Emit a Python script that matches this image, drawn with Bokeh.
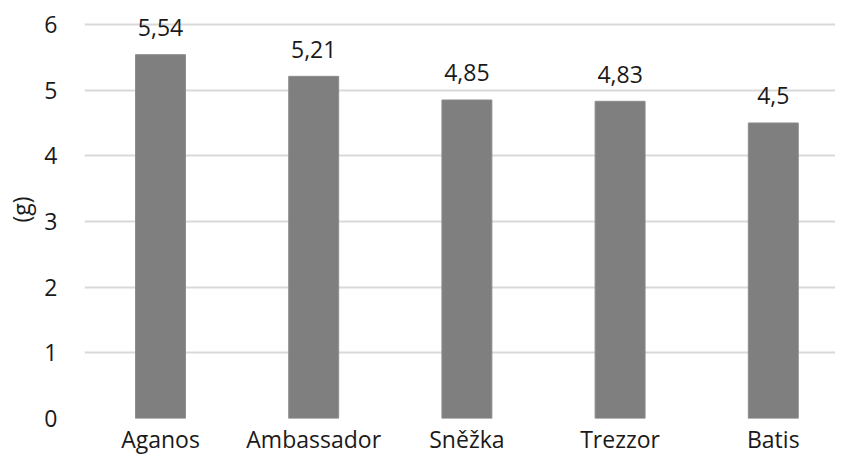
from bokeh.plotting import figure
from bokeh.models import Range1d, FixedTicker, ColumnDataSource
from bokeh.embed import file_html
from bokeh.resources import INLINE
from bokeh.core.properties import value

categories = ["Aganos", "Ambassador", "Sněžka", "Trezzor", "Batis"]
values = [5.54, 5.21, 4.85, 4.83, 4.5]
y_ticks = [0, 1, 2, 3, 4, 5, 6]
y_label = "(g)"

FONT = "Open Sans"
FS = "23px"
TXT = "#1a1a1a"

xs = [i + 0.5 for i in range(len(categories))]
labels = [f"{v:g}".replace(".", ",") for v in values]
src = ColumnDataSource(dict(x=xs, top=values, label=labels))

# frame reaches the top edge so value labels above the 6 line are not clipped
p = figure(width=835, height=457, output_backend="svg", toolbar_location=None,
           x_range=Range1d(0.004, 4.906), y_range=Range1d(0, 6.365),
           min_border_left=84, min_border_right=0, min_border_top=0,
           min_border_bottom=39)
p.outline_line_color = None
p.background_fill_color = "white"
p.border_fill_color = "white"

p.xgrid.visible = False
p.ygrid.ticker = FixedTicker(ticks=y_ticks)
p.ygrid.grid_line_color = "#d9d9d9"
p.ygrid.grid_line_width = 2

p.vbar(x="x", top="top", width=0.326, source=src, fill_color="#7f7f7f",
       line_color="#8c8c8c", line_width=1)
p.text(x="x", y="top", text="label", source=src, text_align="center",
       text_baseline="alphabetic", y_offset=-27, text_font=value(FONT),
       text_font_size=FS, text_color=TXT)

p.xaxis.ticker = FixedTicker(ticks=xs)
p.xaxis.major_label_overrides = {x: c for x, c in zip(xs, categories)}
p.yaxis.ticker = FixedTicker(ticks=y_ticks)
for ax in (p.xaxis[0], p.yaxis[0]):
    ax.axis_line_color = None
    ax.major_tick_line_color = None
    ax.minor_tick_line_color = None
    ax.major_tick_out = 0
    ax.major_tick_in = 0
    ax.major_label_text_font = FONT
    ax.major_label_text_font_size = FS
    ax.major_label_text_color = TXT
p.xaxis.major_label_standoff = 4
p.yaxis.major_label_standoff = 27
p.yaxis.axis_label = y_label
p.yaxis.axis_label_text_font = FONT
p.yaxis.axis_label_text_font_size = FS
p.yaxis.axis_label_text_font_style = "normal"
p.yaxis.axis_label_text_color = TXT
p.yaxis.axis_label_standoff = 4

open("out.html", "w").write(file_html(p, INLINE))
